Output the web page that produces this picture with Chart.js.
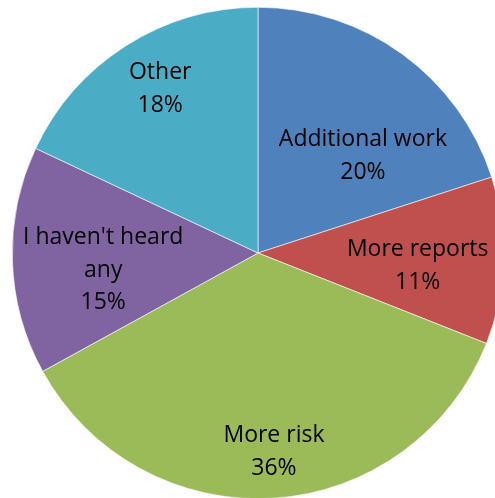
<!DOCTYPE html>
<html>
<head>
<meta charset="utf-8">
<script src="https://cdn.jsdelivr.net/npm/chart.js@4"></script>
<style>
  html, body { margin: 0; padding: 0; overflow: hidden; background: #fff; }
  #wrap { position: absolute; left: 0; top: 0; }
</style>
</head>
<body>
<div id="wrap"><canvas id="myChart" width="516" height="506"></canvas></div>
<script>
const labels = ["Additional work", "More reports", "More risk", "I haven't heard any", "Other"];
const values = [20, 11, 36, 15, 18];
const colours = ["#4F81BD", "#C0504D", "#9BBB59", "#8064A2", "#4BACC6"];
// label text lines, and where each label sits (as fraction of the radius, from the centre)
const labelLines = [["Additional work", "20%"], ["More reports", "11%"], ["More risk", "36%"], ["I haven't heard", "any", "15%"], ["Other", "18%"]];
const labelOffsets = [[0.427, -0.394], [0.65, 0.053], [0.065, 0.809], [-0.63, 0.069], [-0.398, -0.667]];

const sliceLabels = {
    id: "sliceLabels",
    afterDatasetsDraw(chart) {
        const ctx = chart.ctx;
        const arcs = chart.getDatasetMeta(0).data;
        ctx.save();
        ctx.font = "23px 'Open Sans'";
        ctx.fillStyle = "#000";
        ctx.textAlign = "center";
        ctx.textBaseline = "middle";
        const lineH = 32.5;
        arcs.forEach((arc, i) => {
            const r = arc.outerRadius;
            const cx = arc.x + labelOffsets[i][0] * r;
            const cy = arc.y + labelOffsets[i][1] * r;
            const lines = labelLines[i];
            lines.forEach((t, j) => {
                ctx.fillText(t, cx, cy + (j - (lines.length - 1) / 2) * lineH);
            });
        });
        ctx.restore();
    }
};

new Chart("myChart", {
    type: "pie",
    data: {
        labels: labels,
        datasets: [{
            data: values,
            backgroundColor: colours,
            borderColor: "#ffffff",
            borderWidth: 0.6
        }]
    },
    options: {
        responsive: false,
        animation: false,
        layout: { padding: 7 },
        plugins: {
            legend: { display: false },
            tooltip: { enabled: false }
        }
    },
    plugins: [sliceLabels]
});
</script>
</body>
</html>
